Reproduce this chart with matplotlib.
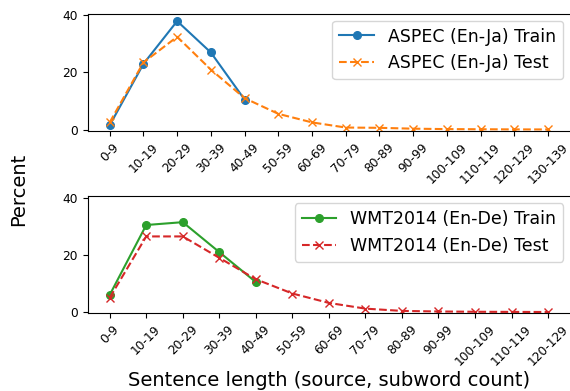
import matplotlib
matplotlib.use("Agg")
import matplotlib.pyplot as plt
import numpy as np

# ASPEC (En-Ja)
aspec_bins = ["0-9", "10-19", "20-29", "30-39", "40-49", "50-59", "60-69", "70-79",
              "80-89", "90-99", "100-109", "110-119", "120-129", "130-139"]
aspec_train = [1.5, 23, 38, 27, 10.5]
aspec_test = [2.5, 23.5, 32.5, 21, 11, 5.5, 2.5, 0.7, 0.6, 0.3, 0.15, 0.1, 0.05, 0.03]

# WMT2014 (En-De)
wmt_bins = ["0-9", "10-19", "20-29", "30-39", "40-49", "50-59", "60-69", "70-79",
            "80-89", "90-99", "100-109", "110-119", "120-129"]
wmt_train = [6, 30.5, 31.5, 21, 10.5]
wmt_test = [5, 26.5, 26.5, 19, 11.5, 6.5, 3.2, 1.2, 0.4, 0.2, 0.1, 0.05, 0.02]

fig, (ax1, ax2) = plt.subplots(2, 1, figsize=(5.7, 3.91), dpi=100)
fig.subplots_adjust(left=0.154, right=1.0, top=0.965, bottom=0.199, hspace=0.56)

x1 = np.arange(len(aspec_bins))
ax1.plot(x1[:len(aspec_train)], aspec_train, color='tab:blue', marker='o', markersize=5.5,
         linewidth=1.5, label='ASPEC (En-Ja) Train')
ax1.plot(x1, aspec_test, color='tab:orange', marker='x', markersize=6, linestyle='--',
         linewidth=1.5, label='ASPEC (En-Ja) Test')
ax1.set_xticks(x1)
ax1.set_xticklabels(aspec_bins, rotation=45, fontsize=8.8)

x2 = np.arange(len(wmt_bins))
ax2.plot(x2[:len(wmt_train)], wmt_train, color='tab:green', marker='o', markersize=5.5,
         linewidth=1.5, label='WMT2014 (En-De) Train')
ax2.plot(x2, wmt_test, color='tab:red', marker='x', markersize=6, linestyle='--',
         linewidth=1.5, label='WMT2014 (En-De) Test')
ax2.set_xticks(x2)
ax2.set_xticklabels(wmt_bins, rotation=45, fontsize=8.8)

for ax in (ax1, ax2):
    ax.set_ylim(-0.4, 40.6)
    ax.set_yticks([0, 20, 40])
    ax.tick_params(axis='y', labelsize=8.8)
    ax.spines['right'].set_visible(False)
    ax.legend(loc='upper right', fontsize=12.5, handlelength=2.0, borderaxespad=0.4)

fig.text(0.032, 0.515, 'Percent', rotation=90, va='center', ha='center', fontsize=14)
ax2.set_xlabel('Sentence length (source, subword count)', fontsize=14, labelpad=2)

plt.savefig('out.png', dpi=100)
